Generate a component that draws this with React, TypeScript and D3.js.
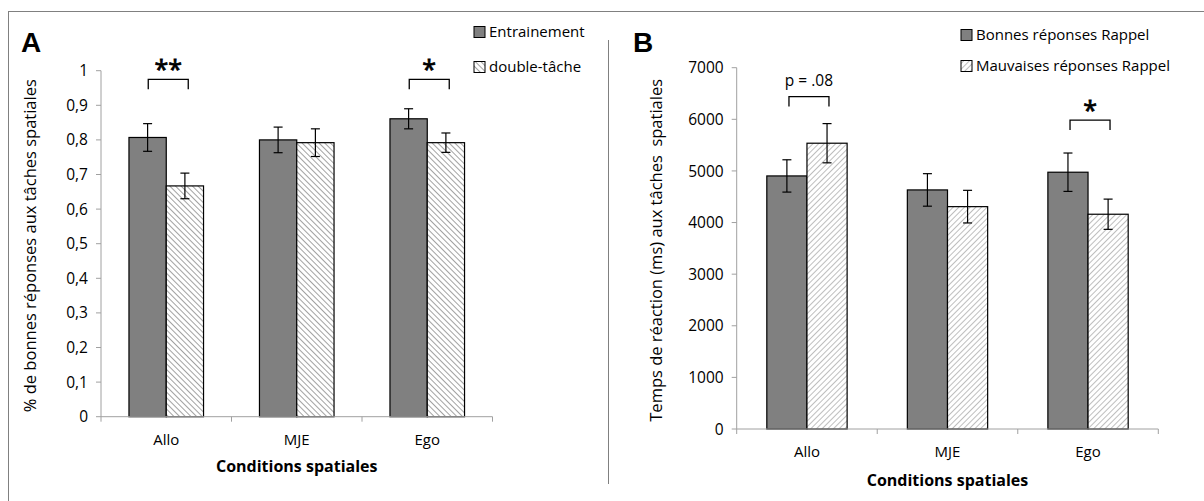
import React from "react";
import * as d3 from "d3";

// ---------- Data ----------
const categories = ["Allo", "MJE", "Ego"];

// Panel A
const seriesA = ["Entrainement", "double-tâche"];
const entrainementA = [0.807, 0.8, 0.861];
const entrainementAErr = [0.04, 0.037, 0.029];
const doubleTacheA = [0.667, 0.792, 0.792];
const doubleTacheAErr = [0.037, 0.04, 0.028];
const ticksA = [0, 0.1, 0.2, 0.3, 0.4, 0.5, 0.6, 0.7, 0.8, 0.9, 1];
const sigA = [
  { cat: "Allo", label: "**", level: 0.975 },
  { cat: "Ego", label: "*", level: 0.975 },
];

// Panel B
const seriesB = ["Bonnes réponses Rappel", "Mauvaises réponses Rappel"];
const bonnesB = [4903, 4632, 4975];
const bonnesBErr = [313, 315, 372];
const mauvaisesB = [5537, 4308, 4161];
const mauvaisesBErr = [380, 316, 293];
const ticksB = [0, 1000, 2000, 3000, 4000, 5000, 6000, 7000];
const sigB = [
  { cat: "Allo", label: "p = .08", level: 6440 },
  { cat: "Ego", label: "*", level: 5985 },
];

const FONT = "'Open Sans', 'DejaVu Sans', sans-serif";
const AXIS = "#a0a0a0";
const BORDER = "#808080";

type Sig = { cat: string; label: string; level: number };

type PanelProps = {
  letter: string;
  letterX: number;
  x0: number;
  x1: number;
  yTop: number;
  yBottom: number;
  domainMax: number;
  ticks: number[];
  fmt: (v: number) => string;
  series: string[];
  values: number[][];
  errors: number[][];
  patternId: string;
  sig: Sig[];
  yTitle: string;
  yTitleX: number;
  catLabelY: number;
  xTitleY: number;
  legendX: number;
  legendY: number[];
};

function Panel(p: PanelProps) {
  const y = d3.scaleLinear().domain([0, p.domainMax]).range([p.yBottom, p.yTop]);
  const x = d3.scaleBand<string>().domain(categories).range([p.x0, p.x1]).padding(0);
  const bw = x.bandwidth() / 3.5;
  const xs = d3
    .scaleBand<string>()
    .domain(p.series)
    .range([0.75 * bw, 2.75 * bw])
    .padding(0);
  const boundaries = d3.range(categories.length + 1).map((i) => p.x0 + i * x.bandwidth());
  const fills = ["#808080", `url(#${p.patternId})`];

  return (
    <g>
      <text x={p.letterX} y={52} fontFamily="'Liberation Sans', Arial, sans-serif" fontWeight="bold" fontSize={28} fill="#000">
        {p.letter}
      </text>
      {/* y axis */}
      <line x1={p.x0} x2={p.x0} y1={p.yTop} y2={p.yBottom} stroke={AXIS} />
      {p.ticks.map((t) => (
        <g key={t}>
          <line x1={p.x0 - 5} x2={p.x0} y1={y(t)} y2={y(t)} stroke={AXIS} />
          <text x={p.x0 - 13} y={y(t)} dy="0.36em" textAnchor="end" fontFamily={FONT} fontSize={15.5} fill="#000">
            {p.fmt(t)}
          </text>
        </g>
      ))}
      {/* bars */}
      {categories.map((c, ci) =>
        p.series.map((s, si) => {
          const v = p.values[si][ci];
          const e = p.errors[si][ci];
          const bx = (x(c) as number) + (xs(s) as number);
          const cx = bx + bw / 2;
          return (
            <g key={c + s}>
              <rect x={bx} y={y(v)} width={bw} height={y(0) - y(v)} fill={fills[si]} stroke="#000" strokeWidth={1.2} />
              <line x1={cx} x2={cx} y1={y(v + e)} y2={y(v - e)} stroke="#000" strokeWidth={1.2} />
              <line x1={cx - 4.5} x2={cx + 4.5} y1={y(v + e)} y2={y(v + e)} stroke="#000" strokeWidth={1.2} />
              <line x1={cx - 4.5} x2={cx + 4.5} y1={y(v - e)} y2={y(v - e)} stroke="#000" strokeWidth={1.2} />
            </g>
          );
        })
      )}
      {/* x axis */}
      <line x1={p.x0} x2={p.x1} y1={p.yBottom} y2={p.yBottom} stroke={AXIS} />
      {boundaries.map((bx, i) => (
        <line key={i} x1={bx} x2={bx} y1={p.yBottom} y2={p.yBottom + 5} stroke={AXIS} />
      ))}
      {categories.map((c) => (
        <text key={c} x={(x(c) as number) + x.bandwidth() / 2} y={p.catLabelY} textAnchor="middle" fontFamily={FONT} fontSize={15} fill="#000">
          {c}
        </text>
      ))}
      <text x={(p.x0 + p.x1) / 2} y={p.xTitleY} textAnchor="middle" fontFamily={FONT} fontWeight="bold" fontSize={16} fill="#000">
        Conditions spatiales
      </text>
      <text
        transform={`translate(${p.yTitleX},${(p.yTop + p.yBottom) / 2 + 2}) rotate(-90)`}
        textAnchor="middle"
        fontFamily={FONT}
        fontSize={16.5}
        fill="#000"
        style={{ whiteSpace: "pre" }}
      >
        {p.yTitle}
      </text>
      {/* significance */}
      {p.sig.map((g) => {
        const gx = (x(g.cat) as number) + x.bandwidth() / 2;
        const l = gx - 18;
        const r = gx + 22;
        const by = y(g.level);
        const isStar = g.label.startsWith("*");
        return (
          <g key={g.cat}>
            <path d={`M${l},${by + 10}V${by}H${r}V${by + 10}`} fill="none" stroke="#000" strokeWidth={1.3} />
            <text
              x={(l + r) / 2}
              y={isStar ? by - 1 : by - 11}
              textAnchor="middle"
              fontFamily={FONT}
              fontSize={isStar ? 25 : 15.5}
              fill="#000"
              stroke={isStar ? "#000" : "none"}
              strokeWidth={isStar ? 0.8 : 0}
            >
              {g.label}
            </text>
          </g>
        );
      })}
      {/* legend */}
      {p.series.map((s, si) => (
        <g key={s}>
          <rect x={p.legendX} y={p.legendY[si] - 10.5} width={11} height={11} fill={fills[si]} stroke="#000" strokeWidth={1} />
          <text x={p.legendX + 15} y={p.legendY[si]} fontFamily={FONT} fontSize={15} fill="#000">
            {s}
          </text>
        </g>
      ))}
    </g>
  );
}

export default function App() {
  const fmtA = (v: number) => (v === 0 || v === 1 ? String(v) : d3.format(".1f")(v).replace(".", ","));
  const fmtB = (v: number) => String(v);
  return (
    <svg width={1204} height={501} style={{ position: "absolute", left: 0, top: 0, background: "#fff" }}>
      <defs>
        <pattern id="hatchA" patternUnits="userSpaceOnUse" width={4} height={4} patternTransform="rotate(-45)">
          <rect width={4} height={4} fill="#fff" />
          <line x1={0} y1={0} x2={0} y2={4} stroke="#8a8a8a" strokeWidth={1.6} />
        </pattern>
        <pattern id="hatchB" patternUnits="userSpaceOnUse" width={4} height={4} patternTransform="rotate(45)">
          <rect width={4} height={4} fill="#fff" />
          <line x1={0} y1={0} x2={0} y2={4} stroke="#a8a8a8" strokeWidth={1.5} />
        </pattern>
      </defs>
      <rect width={1204} height={501} fill="#fff" />
      <line x1={8} x2={1204} y1={11.5} y2={11.5} stroke={BORDER} />
      <line x1={8.5} x2={8.5} y1={11} y2={501} stroke={BORDER} />
      <line x1={608.5} x2={608.5} y1={40} y2={484} stroke={BORDER} />
      <Panel
        letter="A"
        letterX={21}
        x0={101}
        x1={492.5}
        yTop={70.7}
        yBottom={416.7}
        domainMax={1}
        ticks={ticksA}
        fmt={fmtA}
        series={seriesA}
        values={[entrainementA, doubleTacheA]}
        errors={[entrainementAErr, doubleTacheAErr]}
        patternId="hatchA"
        sig={sigA}
        yTitle="% de bonnes réponses aux tâches spatiales"
        yTitleX={36}
        catLabelY={445}
        xTitleY={472}
        legendX={474}
        legendY={[37, 72]}
      />
      <Panel
        letter="B"
        letterX={633}
        x0={736.7}
        x1={1158.3}
        yTop={67.7}
        yBottom={429}
        domainMax={7000}
        ticks={ticksB}
        fmt={fmtB}
        series={seriesB}
        values={[bonnesB, mauvaisesB]}
        errors={[bonnesBErr, mauvaisesBErr]}
        patternId="hatchB"
        sig={sigB}
        yTitle="Temps de réaction (ms) aux tâches  spatiales"
        yTitleX={662}
        catLabelY={456.5}
        xTitleY={486}
        legendX={961}
        legendY={[40, 71]}
      />
    </svg>
  );
}
